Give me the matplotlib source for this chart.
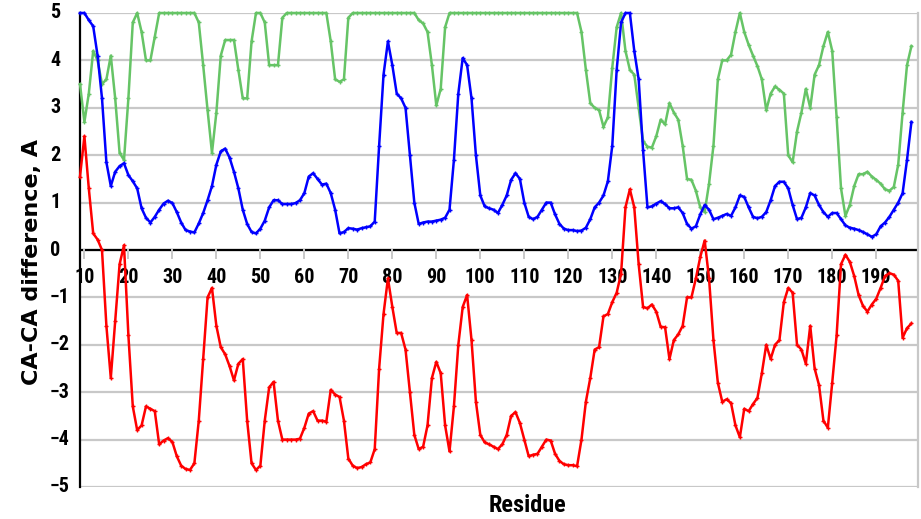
import matplotlib
matplotlib.use("Agg")
import matplotlib.pyplot as plt
from matplotlib import font_manager as fm
from matplotlib.transforms import blended_transform_factory

residues = list(range(9, 199))

blue_vals = [
    5.0,
    5.0, 4.85, 4.72, 4.1, 3.2, 1.85, 1.35, 1.65, 1.77, 1.83,
    1.58, 1.45, 1.3, 0.88, 0.68, 0.58, 0.7, 0.85, 0.98, 1.04,
    0.99, 0.8, 0.58, 0.42, 0.39, 0.37, 0.56, 0.78, 1.05, 1.35,
    1.8, 2.08, 2.14, 1.95, 1.65, 1.3, 0.85, 0.55, 0.38, 0.35,
    0.45, 0.62, 0.9, 1.05, 1.05, 0.97, 0.97, 0.97, 0.99, 1.05,
    1.2, 1.55, 1.62, 1.5, 1.38, 1.4, 1.2, 0.85, 0.35, 0.38,
    0.46, 0.45, 0.43, 0.46, 0.48, 0.5, 0.6, 2.2, 3.7, 4.4,
    3.9, 3.3, 3.2, 3.0, 2.0, 1.0, 0.55, 0.58, 0.6, 0.6,
    0.62, 0.64, 0.68, 0.85, 1.9, 3.3, 4.05, 3.9, 3.2, 2.0,
    1.15, 0.92, 0.88, 0.85, 0.78, 0.95, 1.15, 1.48, 1.62, 1.5,
    1.0, 0.7, 0.65, 0.7, 0.85, 1.0, 1.0, 0.75, 0.55, 0.45,
    0.42, 0.42, 0.4, 0.41, 0.47, 0.65, 0.9, 1.0, 1.15, 1.45,
    2.2, 3.8, 4.8, 5.0, 5.0, 4.2, 3.6, 2.1, 0.9, 0.92,
    0.98, 1.03, 0.97, 0.88, 0.88, 0.9, 0.78, 0.55, 0.45, 0.5,
    0.75, 0.95, 0.85, 0.65, 0.68, 0.72, 0.76, 0.72, 0.9, 1.15,
    1.12, 0.9, 0.7, 0.67, 0.7, 0.8, 1.05, 1.35, 1.44, 1.44,
    1.3, 0.95, 0.65, 0.68, 0.9, 1.2, 1.15, 0.95, 0.8, 0.7,
    0.78, 0.78, 0.65, 0.52, 0.47, 0.45, 0.42, 0.38, 0.33, 0.28,
    0.33, 0.5, 0.58, 0.7, 0.85, 1.0, 1.2, 1.9, 2.7,
]

green_vals = [
    3.5,
    2.7, 3.3, 4.2, 4.0, 3.5, 3.6, 4.1, 3.2, 2.05, 1.9,
    3.2, 4.8, 5.0, 4.6, 4.0, 4.0, 4.5, 5.0, 5.0, 5.0,
    5.0, 5.0, 5.0, 5.0, 5.0, 5.0, 4.8, 3.9, 2.95, 2.05,
    2.9, 4.1, 4.43, 4.43, 4.43, 3.8, 3.2, 3.2, 4.4, 5.0,
    5.0, 4.8, 3.9, 3.9, 3.9, 4.9, 5.0, 5.0, 5.0, 5.0,
    5.0, 5.0, 5.0, 5.0, 5.0, 5.0, 4.4, 3.6, 3.55, 3.6,
    4.9, 5.0, 5.0, 5.0, 5.0, 5.0, 5.0, 5.0, 5.0, 5.0,
    5.0, 5.0, 5.0, 5.0, 5.0, 5.0, 4.85, 4.78, 4.6, 3.9,
    3.05, 3.4, 4.7, 5.0, 5.0, 5.0, 5.0, 5.0, 5.0, 5.0,
    5.0, 5.0, 5.0, 5.0, 5.0, 5.0, 5.0, 5.0, 5.0, 5.0,
    5.0, 5.0, 5.0, 5.0, 5.0, 5.0, 5.0, 5.0, 5.0, 5.0,
    5.0, 5.0, 5.0, 4.6, 3.8, 3.1, 3.0, 2.95, 2.6, 2.8,
    3.85, 4.7, 5.0, 4.2, 3.8, 3.7, 3.0, 2.3, 2.18, 2.16,
    2.4, 2.75, 2.65, 3.1, 2.9, 2.75, 2.2, 1.5, 1.48, 1.25,
    0.9, 0.8, 1.4, 2.2, 3.6, 4.0, 4.0, 4.12, 4.6, 5.0,
    4.6, 4.33, 4.1, 3.88, 3.6, 2.95, 3.3, 3.45, 3.38, 3.3,
    2.0, 1.85, 2.5, 2.9, 3.4, 3.0, 3.7, 3.9, 4.3, 4.6,
    4.2, 2.8, 1.3, 0.72, 0.95, 1.35, 1.6, 1.6, 1.65, 1.55,
    1.48, 1.4, 1.28, 1.25, 1.33, 1.8, 2.9, 3.9, 4.3,
]

red_vals = [
    1.55,
    2.4, 1.3, 0.35, 0.22, 0.0, -1.6, -2.7, -1.5, -0.3, 0.1,
    -1.8, -3.3, -3.8, -3.7, -3.3, -3.35, -3.4, -4.1, -4.02, -3.97,
    -4.05, -4.35, -4.55, -4.62, -4.64, -4.5, -3.6, -2.3, -1.0, -0.8,
    -1.6, -2.05, -2.2, -2.45, -2.75, -2.4, -2.3, -3.6, -4.5, -4.64,
    -4.55, -3.6, -2.9, -2.78, -3.6, -4.0, -4.0, -4.0, -4.0, -3.98,
    -3.75, -3.45, -3.4, -3.6, -3.6, -3.62, -2.95, -3.05, -3.1, -3.6,
    -4.4, -4.55, -4.6, -4.58, -4.52, -4.48, -4.2, -2.5, -1.35, -0.6,
    -1.2, -1.75, -1.75, -2.1, -3.0, -3.9, -4.2, -4.15, -3.7, -2.7,
    -2.36, -2.6, -3.7, -4.25, -3.3, -2.0, -1.2, -0.95, -1.9, -3.2,
    -3.9, -4.06, -4.1, -4.15, -4.2, -4.1, -3.9, -3.5, -3.42, -3.65,
    -4.0, -4.35, -4.32, -4.3, -4.15, -4.0, -4.02, -4.3, -4.45, -4.52,
    -4.54, -4.54, -4.56, -4.0, -3.2, -2.7, -2.1, -2.05, -1.4, -1.35,
    -1.1, -0.9, -0.5, 0.9, 1.28, 0.9, -0.3, -1.2, -1.23, -1.15,
    -1.3, -1.62, -1.63, -2.3, -1.9, -1.78, -1.6, -1.0, -1.0, -0.6,
    -0.15, 0.2, -0.6, -1.9, -2.8, -3.2, -3.15, -3.23, -3.7, -3.95,
    -3.35, -3.4, -3.25, -3.12, -2.6, -2.0, -2.3, -2.0, -1.9, -1.1,
    -0.8, -0.9, -2.0, -2.1, -2.4, -1.6, -2.5, -2.85, -3.6, -3.75,
    -2.8, -1.8, -0.3, -0.1, -0.25, -0.55, -0.95, -1.18, -1.3, -1.15,
    -1.03, -0.8, -0.55, -0.49, -0.52, -0.65, -1.85, -1.65, -1.55,
]

x_ticks = list(range(10, 200, 10))
y_ticks = list(range(-5, 6))
y_label = "CA-CA difference, A"
x_label = "Residue"


def pick_bold(cands):
    for c in cands:
        for f in fm.fontManager.ttflist:
            w = f.weight if isinstance(f.weight, int) else 400
            if f.name == c and f.style == "normal" and w >= 600:
                return c
    return "DejaVu Sans"


tick_font = pick_bold(["Liberation Sans Narrow", "Archivo Narrow", "Roboto Condensed",
                       "Barlow Semi Condensed", "Asap Condensed", "Barlow Condensed",
                       "PT Sans Narrow", "DejaVu Sans Condensed"])
label_font = "DejaVu Sans"

fig = plt.figure(figsize=(9.21, 5.19), dpi=100)
ax = fig.add_axes([80 / 921, 32 / 519, 838 / 921, 474 / 519])

ax.set_xlim(9, 199.5)
ax.set_ylim(-5, 5)

for yv in y_ticks:
    ax.axhline(yv, color="#c8c8c8", lw=1.6, zorder=0)
ax.axhline(0, color="black", lw=1.6, zorder=1)

common = dict(lw=1.8, markersize=3.0, marker="+", markeredgewidth=1.0, clip_on=False, zorder=3)
ax.plot(residues, green_vals, color="#66c466", **common)
ax.plot(residues, blue_vals, color="#0000ff", **common)
ax.plot(residues, red_vals, color="#ff0000", **common)

for s in ["top", "bottom"]:
    ax.spines[s].set_visible(False)
ax.spines["left"].set_color("black")
ax.spines["left"].set_linewidth(1.6)
ax.spines["right"].set_color("#c8c8c8")
ax.spines["right"].set_linewidth(1.6)

ax.set_xticks([])
ax.set_yticks([])

# y tick labels, left-aligned as in the reference
ytrans = blended_transform_factory(fig.transFigure, ax.transData)
for yv in y_ticks:
    lab = ("\u2212" + str(-yv)) if yv < 0 else str(yv)
    fig.text(50 / 921, yv, lab, transform=ytrans, ha="left", va="center",
             fontsize=14.5, fontweight="bold", family=tick_font)

# x tick marks and labels at the zero line
for xv in x_ticks:
    ax.plot([xv, xv], [0, -0.17], color="#c8c8c8", lw=1.4, zorder=1, clip_on=False)
    ax.text(xv, -0.57, str(xv), ha="center", va="center", fontsize=14.5,
            fontweight="bold", family=tick_font, zorder=2)

fig.text(32 / 921, 1 - 262 / 519, y_label, rotation=90, ha="center", va="center",
         fontsize=16, fontweight="bold", family=label_font)
fig.text(527 / 921, 1 - 506 / 519, x_label, ha="center", va="center",
         fontsize=17.5, fontweight="bold", family=tick_font)

assert len(blue_vals) == len(residues) == len(green_vals) == len(red_vals)
fig.savefig("out.png", dpi=100)
